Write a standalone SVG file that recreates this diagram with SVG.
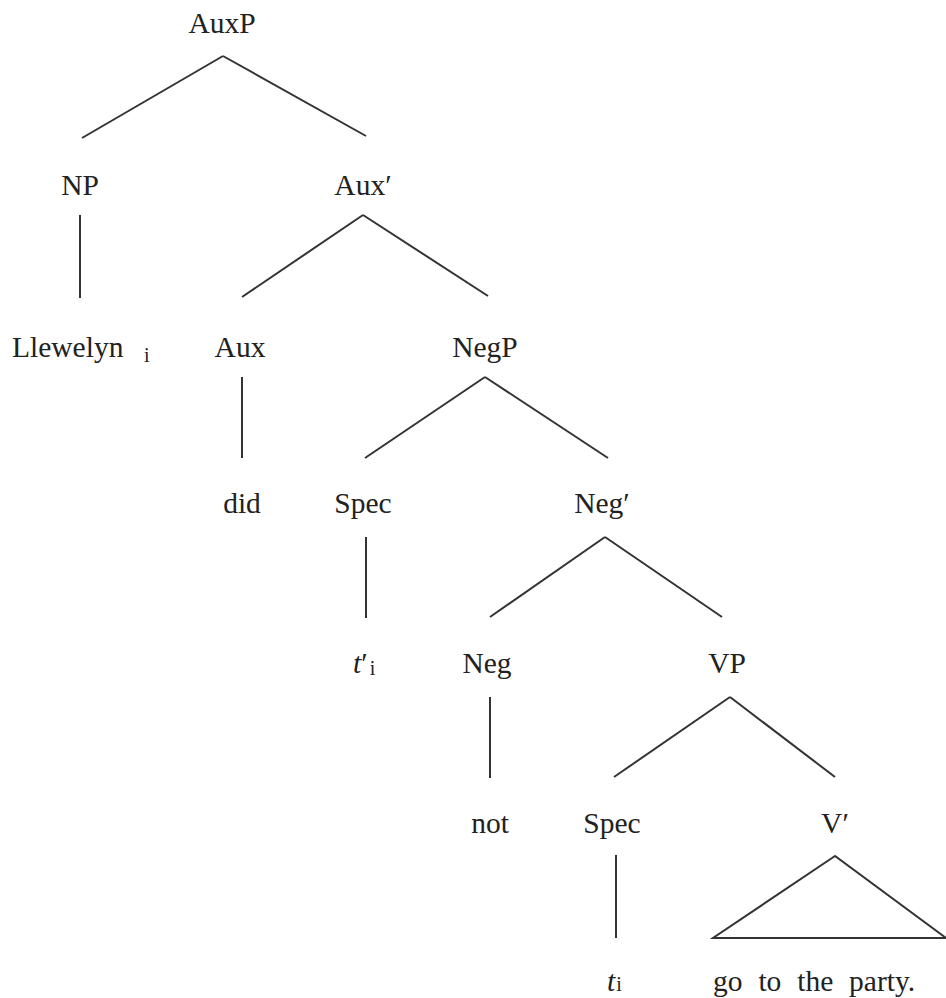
<svg xmlns="http://www.w3.org/2000/svg" width="946" height="998" viewBox="0 0 946 998">
<style>
text{font-family:"Liberation Serif","Times New Roman",serif;font-size:29.5px;fill:#222;}
.c{text-anchor:middle;}
.sub{font-size:20px;}
.it{font-style:italic;}
#edges line,#edges polygon{stroke:#333;stroke-width:2;fill:none;}
</style>
<rect width="946" height="998" fill="#fff"/>
<g id="edges">
<line x1="223" y1="56" x2="82" y2="138"/>
<line x1="223" y1="56" x2="366" y2="136"/>
<line x1="80" y1="215" x2="80" y2="298"/>
<line x1="363" y1="215" x2="242" y2="297"/>
<line x1="363" y1="215" x2="488" y2="296"/>
<line x1="242" y1="377" x2="242" y2="458"/>
<line x1="485" y1="377" x2="365" y2="458"/>
<line x1="485" y1="377" x2="608" y2="458"/>
<line x1="366" y1="537" x2="366" y2="618"/>
<line x1="605" y1="537" x2="490" y2="617"/>
<line x1="605" y1="537" x2="722" y2="617"/>
<line x1="490" y1="697" x2="490" y2="778"/>
<line x1="730" y1="697" x2="614" y2="777"/>
<line x1="730" y1="697" x2="835" y2="777"/>
<line x1="616" y1="855" x2="616" y2="938"/>
<polygon points="835,856 713,938 946,938"/>
</g>
<g id="n-auxp"><text class="c" x="222" y="33">AuxP</text></g>
<g id="n-np"><text class="c" x="80" y="195">NP</text></g>
<g id="n-auxbar"><text class="c" x="363" y="195">Aux′</text></g>
<g id="n-llewelyn"><text x="12" y="357">Llewelyn</text><text class="sub" x="144" y="362">i</text></g>
<g id="n-aux"><text class="c" x="240" y="357">Aux</text></g>
<g id="n-negp"><text class="c" x="485" y="357">NegP</text></g>
<g id="n-did"><text class="c" x="242" y="513">did</text></g>
<g id="n-spec1"><text class="c" x="363" y="513">Spec</text></g>
<g id="n-negbar"><text class="c" x="602" y="513">Neg′</text></g>
<g id="n-tprime"><text x="353" y="673"><tspan class="it">t</tspan>′<tspan class="sub" dx="2" dy="2">i</tspan></text></g>
<g id="n-neg"><text class="c" x="487" y="673">Neg</text></g>
<g id="n-vp"><text class="c" x="727" y="673">VP</text></g>
<g id="n-not"><text class="c" x="490" y="833">not</text></g>
<g id="n-spec2"><text class="c" x="612" y="833">Spec</text></g>
<g id="n-vbar"><text class="c" x="835" y="833">V′</text></g>
<g id="n-t"><text x="607" y="991"><tspan class="it">t</tspan><tspan class="sub" dx="1">i</tspan></text></g>
<g id="n-go"><text x="713" y="991" word-spacing="8.5">go to the party.</text></g>
</svg>
